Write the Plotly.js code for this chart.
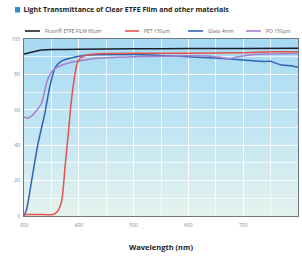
<!DOCTYPE html>
<html>
<head>
<meta charset="utf-8">
<script src="https://cdn.plot.ly/plotly-3.0.1.min.js"></script>
<style>html,body{margin:0;padding:0;background:#fff;}#chart{width:302px;height:260px;}</style>
</head>
<body>
<div id="chart"></div>
<script>
// Series names
const seriesNames = ["Fluon\u00ae ETFE FILM 60\u00b5m", "PET 150\u00b5m", "Glass 4mm", "PO 150\u00b5m"];
const seriesColors = ["#1b1f2a", "#e5534b", "#2f63b3", "#a57fcb"];

// Wavelength (nm) / transmittance (%) per series
const etfeX = [300, 310, 320, 330, 350, 400, 500, 600, 700, 800];
const etfeY = [91.5, 92.2, 93.0, 93.7, 94.0, 94.2, 94.5, 94.6, 94.7, 94.8];

const petX = [300, 330, 355, 362, 369, 375, 381, 385, 390, 396, 402, 410, 420, 450, 500, 600, 700, 750, 800];
const petY = [0.8, 0.8, 1.0, 3, 9, 28, 47, 61, 74, 85, 89, 90.5, 91.3, 91.8, 92.0, 92.0, 92.3, 92.8, 92.8];

const glassX = [300, 305, 314, 325, 338, 347, 357, 369, 385, 400, 420, 500, 550, 600, 650, 700, 740, 750, 758, 770, 790, 800];
const glassY = [0, 4, 20, 40, 58, 73, 84, 87.6, 89.2, 90.3, 91.0, 91.2, 90.7, 90.0, 89.2, 88.2, 87.3, 87.4, 86.5, 85.3, 84.8, 84.0];

const poX = [300, 305, 312, 320, 332, 341, 347, 357, 378, 408, 440, 500, 600, 640, 660, 675, 690, 720, 800];
const poY = [56, 55.3, 56, 58.5, 63.7, 75, 79.7, 83.4, 86.2, 88, 89.3, 90, 90.5, 90.3, 89.5, 88.8, 90, 91.3, 91.8];

const xTicks = [300, 400, 500, 600, 700, 800];
const yTicks = [0, 20, 40, 60, 80, 100];

const xs = [etfeX, petX, glassX, poX];
const ys = [etfeY, petY, glassY, poY];

// draw order: glass and PO under PET and ETFE
const order = [2, 3, 1, 0];
const traces = order.map(i => ({
  type: "scatter", mode: "lines", name: seriesNames[i],
  x: xs[i], y: ys[i],
  line: {color: seriesColors[i], width: 1.5, shape: "spline", smoothing: 0.6},
  showlegend: false, hoverinfo: "skip"
}));

const W = 302, H = 260, mL = 24, mR = 4, mT = 39, mB = 44;
const pw = W - mL - mR, ph = H - mT - mB;
const px2x = p => (p - mL) / pw;
const py2y = p => (H - mB - p) / ph;

const svg = '<svg xmlns="http://www.w3.org/2000/svg" width="100" height="100" preserveAspectRatio="none">' +
  '<defs><linearGradient id="g" x1="0" y1="0" x2="0" y2="1">' +
  '<stop offset="0" stop-color="#a6daf3"/><stop offset="0.55" stop-color="#c4e6f3"/><stop offset="1" stop-color="#e5f3ed"/>' +
  '</linearGradient></defs><rect width="100" height="100" fill="url(#g)"/></svg>';

// manual legend layout (line start px, text start px)
const legPos = [[25, 43], [125, 142], [188, 206], [246, 264]];
const legY = 31;
const shapes = [{
  type: "rect", xref: "paper", yref: "paper",
  x0: px2x(15), x1: px2x(20), y0: py2y(12.5), y1: py2y(7),
  fillcolor: "#2b8fd6", line: {width: 0}
}];
const annotations = [];
legPos.forEach((p, i) => {
  shapes.push({type: "line", xref: "paper", yref: "paper",
    x0: px2x(p[0]), x1: px2x(p[1] - 3), y0: py2y(legY), y1: py2y(legY),
    line: {color: seriesColors[i], width: 1.6}});
  annotations.push({xref: "paper", yref: "paper", x: px2x(p[1]), y: py2y(legY),
    xanchor: "left", yanchor: "middle", showarrow: false, text: seriesNames[i],
    font: {family: "Open Sans", size: 5, color: "#6a6a6a"}});
});

const layout = {
  width: W, height: H,
  margin: {l: mL, r: mR, t: mT, b: mB, pad: 0},
  paper_bgcolor: "#fff", plot_bgcolor: "rgba(0,0,0,0)",
  font: {family: "Open Sans", size: 5, color: "#888"},
  title: {
    text: "<b>Light Transmittance of Clear ETFE Film and other materials</b>",
    font: {family: "Open Sans", size: 7, color: "#222"},
    xref: "container", x: 23.5 / W, xanchor: "left",
    yref: "container", y: 1 - 10/H, yanchor: "middle"
  },
  images: [{source: "data:image/svg+xml;utf8," + encodeURIComponent(svg),
    xref: "paper", yref: "paper", x: 0, y: 1, sizex: 1, sizey: 1,
    sizing: "stretch", xanchor: "left", yanchor: "top", layer: "below"}],
  xaxis: {
    range: [300, 800], tickvals: xTicks, ticktext: xTicks.map(String),
    showgrid: true, gridcolor: "rgba(255,255,255,0.7)", gridwidth: 1,
    minor: {dtick: 50, tick0: 300, showgrid: true, gridcolor: "rgba(255,255,255,0.7)", gridwidth: 1},
    showline: true, linecolor: "#6f7780", linewidth: 1, mirror: true,
    ticks: "", ticklen: 0, zeroline: false, ticklabelstandoff: 4,
    tickfont: {family: "Open Sans", size: 5, color: "#888"},
    title: {text: "<b>Wavelength (nm)</b>", standoff: 17,
      font: {family: "Open Sans", size: 7.5, color: "#222"}},
    automargin: false
  },
  yaxis: {
    range: [0, 100], tickvals: yTicks, ticktext: yTicks.map(String),
    showgrid: true, gridcolor: "rgba(255,255,255,0.7)", gridwidth: 1,
    minor: {dtick: 10, tick0: 0, showgrid: true, gridcolor: "rgba(255,255,255,0.7)", gridwidth: 1},
    showline: true, linecolor: "#6f7780", linewidth: 1, mirror: true,
    ticks: "", zeroline: false, ticklabelstandoff: 2,
    tickfont: {family: "Open Sans", size: 5, color: "#888"},
    automargin: false
  },
  shapes: shapes,
  annotations: annotations,
  showlegend: false
};

Plotly.newPlot("chart", traces, layout, {staticPlot: true, displayModeBar: false});
</script>
</body>
</html>
